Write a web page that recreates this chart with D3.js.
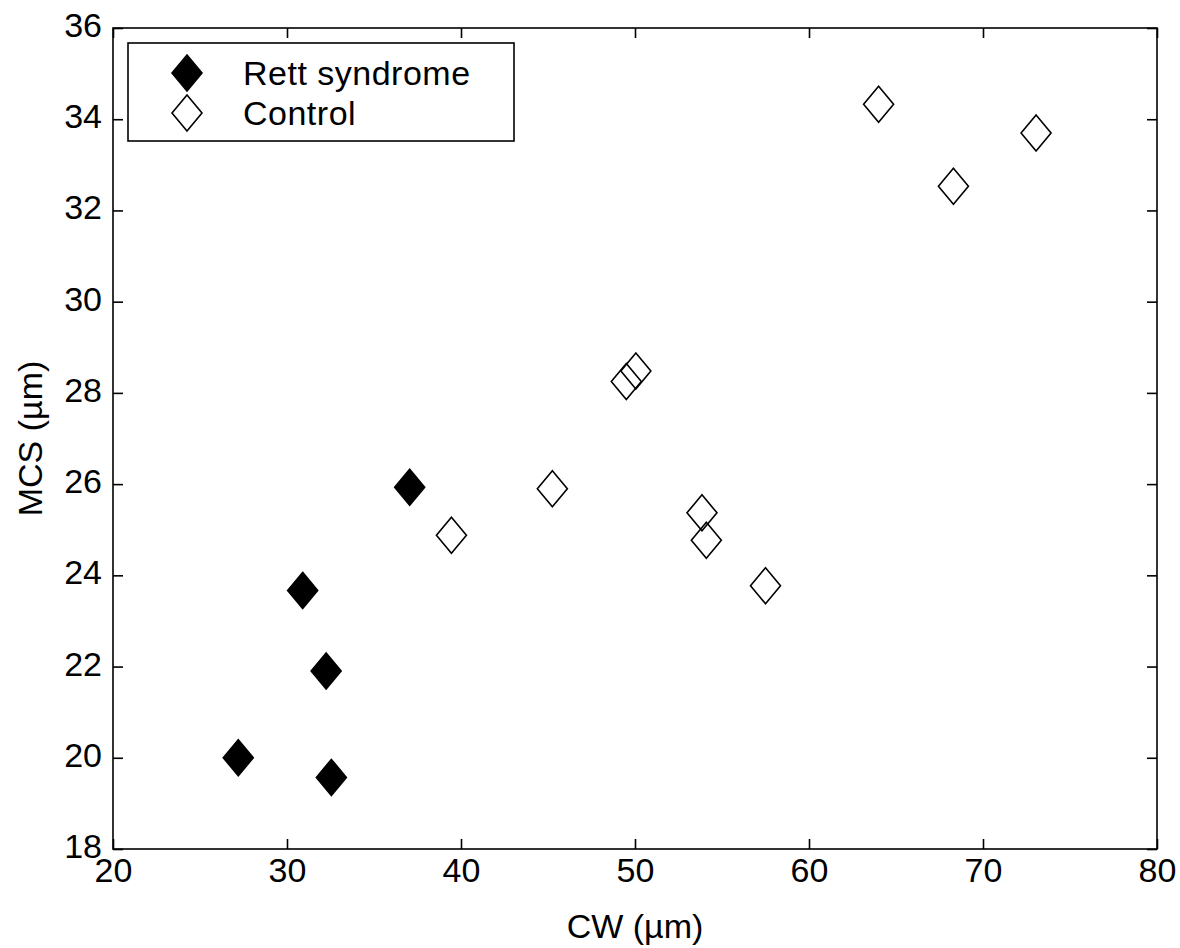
<!DOCTYPE html>
<html>
<head>
<meta charset="utf-8">
<script src="https://cdn.jsdelivr.net/npm/d3@7"></script>
<style>
  body { margin: 0; background: #fff; }
  text { font-family: Arial, "Liberation Sans", sans-serif; fill: #000; }
</style>
</head>
<body>
<script>
// Rett syndrome (filled)
const rettCW  = [27.2, 30.9, 32.25, 32.55, 37.05];
const rettMCS = [20.0, 23.67, 21.9, 19.57, 25.93];
// Control (open)
const ctrlCW  = [39.45, 45.25, 49.5, 50.05, 53.85, 54.1, 57.5, 64.0, 68.3, 73.05];
const ctrlMCS = [24.88, 25.9, 28.25, 28.48, 25.37, 24.77, 23.77, 34.33, 32.53, 33.7];

const xTicks = [20, 30, 40, 50, 60, 70, 80];
const yTicks = [18, 20, 22, 24, 26, 28, 30, 32, 34, 36];
const seriesNames = ["Rett syndrome", "Control"];

const W = 1180, H = 948;
const mLeft = 113, mRight = 1157, mTop = 28, mBottom = 849;
const fs = "34px";

const svg = d3.select("body").append("svg")
  .attr("width", W).attr("height", H);

const x = d3.scaleLinear().domain([20, 80]).range([mLeft, mRight]);
const y = d3.scaleLinear().domain([18, 36]).range([mBottom, mTop]);

// frame
svg.append("rect")
  .attr("x", mLeft).attr("y", mTop)
  .attr("width", mRight - mLeft).attr("height", mBottom - mTop)
  .attr("fill", "none").attr("stroke", "#000").attr("stroke-width", 1.6);

const tickLen = 10;
// x axis bottom (ticks inward)
const gx = svg.append("g").attr("transform", "translate(0," + mBottom + ")")
  .call(d3.axisBottom(x).tickValues(xTicks).tickSizeInner(-tickLen).tickSizeOuter(0).tickPadding(9));
gx.select(".domain").remove();
gx.selectAll("line").attr("stroke", "#000").attr("stroke-width", 1.6);
gx.selectAll("text").style("font-size", fs);

// x ticks top
const gxt = svg.append("g").attr("transform", "translate(0," + mTop + ")")
  .call(d3.axisTop(x).tickValues(xTicks).tickSizeInner(-tickLen).tickSizeOuter(0).tickFormat(""));
gxt.select(".domain").remove();
gxt.selectAll("line").attr("stroke", "#000").attr("stroke-width", 1.6);

// y axis left
const gy = svg.append("g").attr("transform", "translate(" + mLeft + ",0)")
  .call(d3.axisLeft(y).tickValues(yTicks).tickSizeInner(-tickLen).tickSizeOuter(0).tickPadding(11));
gy.select(".domain").remove();
gy.selectAll("line").attr("stroke", "#000").attr("stroke-width", 1.6);
gy.selectAll("text").style("font-size", fs).attr("dy", "0.25em");

// y ticks right
const gyr = svg.append("g").attr("transform", "translate(" + mRight + ",0)")
  .call(d3.axisRight(y).tickValues(yTicks).tickSizeInner(-tickLen).tickSizeOuter(0).tickFormat(""));
gyr.select(".domain").remove();
gyr.selectAll("line").attr("stroke", "#000").attr("stroke-width", 1.6);

// diamond path
const hw = 15, hh = 18;
function diamond(cx, cy) {
  return "M" + cx + "," + (cy - hh) + "L" + (cx + hw) + "," + cy +
         "L" + cx + "," + (cy + hh) + "L" + (cx - hw) + "," + cy + "Z";
}

const ctrl = ctrlCW.map((d, i) => ({cw: d, mcs: ctrlMCS[i]}));
const rett = rettCW.map((d, i) => ({cw: d, mcs: rettMCS[i]}));

svg.append("g").selectAll("path")
  .data(ctrl).enter().append("path")
  .attr("d", d => diamond(x(d.cw), y(d.mcs)))
  .attr("fill", "none").attr("stroke", "#000").attr("stroke-width", 1.6);

svg.append("g").selectAll("path")
  .data(rett).enter().append("path")
  .attr("d", d => diamond(x(d.cw), y(d.mcs)))
  .attr("fill", "#000").attr("stroke", "#000").attr("stroke-width", 1.6);

// legend
const lg = svg.append("g");
lg.append("rect")
  .attr("x", 128).attr("y", 43).attr("width", 386).attr("height", 98)
  .attr("fill", "#fff").attr("stroke", "#000").attr("stroke-width", 1.6);
seriesNames.forEach((name, i) => {
  const cy = 73 + i * 40;
  lg.append("path")
    .attr("d", diamond(187, cy))
    .attr("fill", i === 0 ? "#000" : "none")
    .attr("stroke", "#000").attr("stroke-width", 1.6);
  lg.append("text")
    .attr("x", 243).attr("y", cy + 12)
    .style("font-size", fs).style("letter-spacing", "0.5px")
    .text(name);
});

// axis labels
svg.append("text")
  .attr("x", (mLeft + mRight) / 2).attr("y", 938)
  .attr("text-anchor", "middle").style("font-size", fs)
  .text("CW (\u00b5m)");

svg.append("text")
  .attr("transform", "translate(42," + ((mTop + mBottom) / 2) + ") rotate(-90)")
  .attr("text-anchor", "middle").style("font-size", fs)
  .text("MCS (\u00b5m)");
</script>
</body>
</html>
